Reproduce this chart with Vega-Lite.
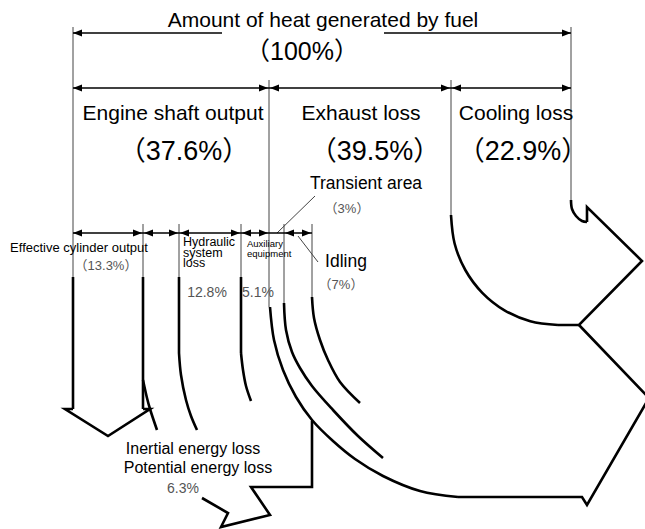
{
  "$schema": "https://vega.github.io/schema/vega-lite/v6.json",
  "width": 645,
  "height": 529,
  "padding": 0,
  "autosize": {"type": "fit", "contains": "padding"},
  "background": "white",
  "config": {"view": {"stroke": null}},
  "datasets": {
    "paths": [
      {"id": "g1", "kind": "guide", "i": 0, "x": 73, "y": 27}, {"id": "g1", "kind": "guide", "i": 1, "x": 73, "y": 277},
      {"id": "g2", "kind": "guide", "i": 0, "x": 571, "y": 27}, {"id": "g2", "kind": "guide", "i": 1, "x": 571, "y": 200},
      {"id": "g3", "kind": "guide", "i": 0, "x": 269, "y": 80}, {"id": "g3", "kind": "guide", "i": 1, "x": 269, "y": 307},
      {"id": "g4", "kind": "guide", "i": 0, "x": 451, "y": 80}, {"id": "g4", "kind": "guide", "i": 1, "x": 451, "y": 215},
      {"id": "g5", "kind": "guide", "i": 0, "x": 143, "y": 224}, {"id": "g5", "kind": "guide", "i": 1, "x": 143, "y": 277},
      {"id": "g6", "kind": "guide", "i": 0, "x": 179, "y": 224}, {"id": "g6", "kind": "guide", "i": 1, "x": 179, "y": 277},
      {"id": "g7", "kind": "guide", "i": 0, "x": 241, "y": 224}, {"id": "g7", "kind": "guide", "i": 1, "x": 241, "y": 277},
      {"id": "g8", "kind": "guide", "i": 0, "x": 284, "y": 224}, {"id": "g8", "kind": "guide", "i": 1, "x": 284, "y": 303},
      {"id": "g9", "kind": "guide", "i": 0, "x": 312, "y": 224}, {"id": "g9", "kind": "guide", "i": 1, "x": 312, "y": 297},
      {"id": "g10", "kind": "guide", "i": 0, "x": 277, "y": 233}, {"id": "g10", "kind": "guide", "i": 1, "x": 315, "y": 196},
      {"id": "g11", "kind": "guide", "i": 0, "x": 298, "y": 236}, {"id": "g11", "kind": "guide", "i": 1, "x": 318, "y": 262},
      {"id": "d1", "kind": "dim", "i": 0, "x": 73, "y": 33}, {"id": "d1", "kind": "dim", "i": 1, "x": 222, "y": 33},
      {"id": "d2", "kind": "dim", "i": 0, "x": 384, "y": 33}, {"id": "d2", "kind": "dim", "i": 1, "x": 571, "y": 33},
      {"id": "d3", "kind": "dim", "i": 0, "x": 73, "y": 88}, {"id": "d3", "kind": "dim", "i": 1, "x": 571, "y": 88},
      {"id": "d4", "kind": "dim", "i": 0, "x": 73, "y": 233}, {"id": "d4", "kind": "dim", "i": 1, "x": 312, "y": 233},
      {"id": "f1", "kind": "flow", "i": 0, "x": 73, "y": 277}, {"id": "f1", "kind": "flow", "i": 1, "x": 73, "y": 409},
      {"id": "f2", "kind": "flow", "i": 0, "x": 143, "y": 277}, {"id": "f2", "kind": "flow", "i": 1, "x": 143, "y": 409},
      {"id": "f3", "kind": "flow", "i": 0, "x": 73, "y": 409}, {"id": "f3", "kind": "flow", "i": 1, "x": 65, "y": 409},
      {"id": "f3", "kind": "flow", "i": 2, "x": 108, "y": 436}, {"id": "f3", "kind": "flow", "i": 3, "x": 150, "y": 409},
      {"id": "f3", "kind": "flow", "i": 4, "x": 143, "y": 409},
      {"id": "f4", "kind": "flow", "i": 0, "x": 179, "y": 277}, {"id": "f4", "kind": "flow", "i": 1, "x": 179, "y": 353},
      {"id": "f5", "kind": "flow", "i": 0, "x": 241, "y": 277}, {"id": "f5", "kind": "flow", "i": 1, "x": 241, "y": 353},
      {"id": "f6", "kind": "flow", "i": 0, "x": 312, "y": 421}, {"id": "f6", "kind": "flow", "i": 1, "x": 312, "y": 487},
      {"id": "f6", "kind": "flow", "i": 2, "x": 251, "y": 487}, {"id": "f6", "kind": "flow", "i": 3, "x": 270, "y": 515},
      {"id": "f6", "kind": "flow", "i": 4, "x": 221, "y": 527}, {"id": "f6", "kind": "flow", "i": 5, "x": 228, "y": 513},
      {"id": "f6", "kind": "flow", "i": 6, "x": 202, "y": 498},
      {"id": "f7", "kind": "flow", "i": 0, "x": 458, "y": 497}, {"id": "f7", "kind": "flow", "i": 1, "x": 582, "y": 497},
      {"id": "f7", "kind": "flow", "i": 2, "x": 587, "y": 505}, {"id": "f7", "kind": "flow", "i": 3, "x": 649, "y": 398},
      {"id": "f7", "kind": "flow", "i": 4, "x": 579, "y": 325},
      {"id": "f8", "kind": "flow", "i": 0, "x": 558, "y": 325}, {"id": "f8", "kind": "flow", "i": 1, "x": 579, "y": 325},
      {"id": "f8", "kind": "flow", "i": 2, "x": 642, "y": 261}, {"id": "f8", "kind": "flow", "i": 3, "x": 587, "y": 207},
      {"id": "f8", "kind": "flow", "i": 4, "x": 587, "y": 222},
      {"id": "c1", "kind": "curve", "i": 0, "x": 270, "y": 307}, {"id": "c1", "kind": "curve", "i": 1, "x": 274, "y": 340},
      {"id": "c1", "kind": "curve", "i": 2, "x": 283, "y": 370}, {"id": "c1", "kind": "curve", "i": 3, "x": 296, "y": 397},
      {"id": "c1", "kind": "curve", "i": 4, "x": 312, "y": 420}, {"id": "c1", "kind": "curve", "i": 5, "x": 333, "y": 441},
      {"id": "c1", "kind": "curve", "i": 6, "x": 355, "y": 459}, {"id": "c1", "kind": "curve", "i": 7, "x": 383, "y": 476},
      {"id": "c1", "kind": "curve", "i": 8, "x": 420, "y": 491}, {"id": "c1", "kind": "curve", "i": 9, "x": 458, "y": 497},
      {"id": "c2", "kind": "curve", "i": 0, "x": 284, "y": 303}, {"id": "c2", "kind": "curve", "i": 1, "x": 286, "y": 330},
      {"id": "c2", "kind": "curve", "i": 2, "x": 292, "y": 352}, {"id": "c2", "kind": "curve", "i": 3, "x": 300, "y": 368},
      {"id": "c2", "kind": "curve", "i": 4, "x": 312, "y": 386}, {"id": "c2", "kind": "curve", "i": 5, "x": 333, "y": 410},
      {"id": "c2", "kind": "curve", "i": 6, "x": 358, "y": 436}, {"id": "c2", "kind": "curve", "i": 7, "x": 383, "y": 458},
      {"id": "c3", "kind": "curve", "i": 0, "x": 312, "y": 297}, {"id": "c3", "kind": "curve", "i": 1, "x": 314, "y": 318},
      {"id": "c3", "kind": "curve", "i": 2, "x": 320, "y": 340}, {"id": "c3", "kind": "curve", "i": 3, "x": 328, "y": 360},
      {"id": "c3", "kind": "curve", "i": 4, "x": 340, "y": 382}, {"id": "c3", "kind": "curve", "i": 5, "x": 360, "y": 403},
      {"id": "c4", "kind": "curve", "i": 0, "x": 241, "y": 353}, {"id": "c4", "kind": "curve", "i": 1, "x": 243, "y": 370},
      {"id": "c4", "kind": "curve", "i": 2, "x": 246, "y": 386}, {"id": "c4", "kind": "curve", "i": 3, "x": 251, "y": 401},
      {"id": "c5", "kind": "curve", "i": 0, "x": 179, "y": 353}, {"id": "c5", "kind": "curve", "i": 1, "x": 181, "y": 375},
      {"id": "c5", "kind": "curve", "i": 2, "x": 186, "y": 400}, {"id": "c5", "kind": "curve", "i": 3, "x": 191, "y": 416},
      {"id": "c5", "kind": "curve", "i": 4, "x": 197, "y": 430},
      {"id": "c6", "kind": "curve", "i": 0, "x": 143, "y": 380}, {"id": "c6", "kind": "curve", "i": 1, "x": 147, "y": 398},
      {"id": "c6", "kind": "curve", "i": 2, "x": 150, "y": 409}, {"id": "c6", "kind": "curve", "i": 3, "x": 157, "y": 430},
      {"id": "c7", "kind": "curve", "i": 0, "x": 451, "y": 215}, {"id": "c7", "kind": "curve", "i": 1, "x": 454.6, "y": 243.5},
      {"id": "c7", "kind": "curve", "i": 2, "x": 465.3, "y": 270}, {"id": "c7", "kind": "curve", "i": 3, "x": 482.3, "y": 292.8},
      {"id": "c7", "kind": "curve", "i": 4, "x": 504.5, "y": 310.3}, {"id": "c7", "kind": "curve", "i": 5, "x": 530.3, "y": 321.2},
      {"id": "c7", "kind": "curve", "i": 6, "x": 558, "y": 325},
      {"id": "c8", "kind": "curve", "i": 0, "x": 587, "y": 222}, {"id": "c8", "kind": "curve", "i": 1, "x": 582, "y": 221},
      {"id": "c8", "kind": "curve", "i": 2, "x": 576, "y": 216}, {"id": "c8", "kind": "curve", "i": 3, "x": 572, "y": 209},
      {"id": "c8", "kind": "curve", "i": 4, "x": 571, "y": 200}
    ],
    "heads": [
      {"x": 73, "y": 33, "dir": "L"}, {"x": 571, "y": 33, "dir": "R"},
      {"x": 73, "y": 88, "dir": "L"}, {"x": 268, "y": 88, "dir": "R"}, {"x": 270, "y": 88, "dir": "L"},
      {"x": 450, "y": 88, "dir": "R"}, {"x": 452, "y": 88, "dir": "L"}, {"x": 571, "y": 88, "dir": "R"},
      {"x": 73, "y": 233, "dir": "L"}, {"x": 142, "y": 233, "dir": "R"}, {"x": 144, "y": 233, "dir": "L"},
      {"x": 178, "y": 233, "dir": "R"}, {"x": 180, "y": 233, "dir": "L"}, {"x": 240, "y": 233, "dir": "R"},
      {"x": 242, "y": 233, "dir": "L"}, {"x": 268, "y": 233, "dir": "R"},
      {"x": 285, "y": 233, "dir": "L"}, {"x": 311, "y": 233, "dir": "R"}
    ],
    "labels": [
      {"grp": "head", "text": "Amount of heat generated by fuel", "x": 323, "y": 27},
      {"grp": "head", "text": "Engine shaft output", "x": 173, "y": 120},
      {"grp": "head", "text": "Exhaust loss", "x": 361, "y": 120},
      {"grp": "head", "text": "Cooling loss", "x": 516, "y": 120},
      {"grp": "toppct", "text": "（100%）", "x": 302, "y": 60},
      {"grp": "headpct", "text": "（37.6%）", "x": 184, "y": 160},
      {"grp": "headpct", "text": "（39.5%）", "x": 375, "y": 160},
      {"grp": "headpct", "text": "（22.9%）", "x": 523, "y": 160},
      {"grp": "callout", "text": "Transient area", "x": 366, "y": 189},
      {"grp": "callout", "text": "Idling", "x": 346, "y": 267},
      {"grp": "bottom", "text": "Inertial energy loss", "x": 193, "y": 454},
      {"grp": "bottom", "text": "Potential energy loss", "x": 198, "y": 473},
      {"grp": "sub", "text": "Effective cylinder output", "x": 79, "y": 252},
      {"grp": "subleft", "text": "Hydraulic", "x": 183, "y": 246},
      {"grp": "subleft", "text": "system", "x": 183, "y": 256.5},
      {"grp": "subleft", "text": "loss", "x": 183, "y": 267},
      {"grp": "tiny", "text": "Auxiliary", "x": 247, "y": 247},
      {"grp": "tiny", "text": "equipment", "x": 247, "y": 257},
      {"grp": "pct", "text": "（13.3%）", "x": 106, "y": 270},
      {"grp": "pct", "text": "（3%）", "x": 347, "y": 213},
      {"grp": "pct", "text": "（7%）", "x": 341, "y": 289},
      {"grp": "pctbig", "text": "12.8%", "x": 207, "y": 297},
      {"grp": "pctbig", "text": "5.1%", "x": 258, "y": 297},
      {"grp": "pctbig", "text": "6.3%", "x": 183, "y": 493}
    ]
  },
  "encoding": {
    "x": {"field": "x", "type": "quantitative", "scale": {"domain": [0, 645], "nice": false, "zero": false}, "axis": null},
    "y": {"field": "y", "type": "quantitative", "scale": {"domain": [0, 529], "nice": false, "zero": false, "reverse": true}, "axis": null}
  },
  "layer": [
    {
      "data": {"name": "paths"},
      "transform": [{"filter": "datum.kind == 'guide'"}],
      "mark": {"type": "line", "stroke": "#444", "strokeWidth": 1, "clip": true},
      "encoding": {"detail": {"field": "id"}, "order": {"field": "i", "type": "quantitative"}}
    },
    {
      "data": {"name": "paths"},
      "transform": [{"filter": "datum.kind == 'dim'"}],
      "mark": {"type": "line", "stroke": "#000", "strokeWidth": 1.4, "clip": true},
      "encoding": {"detail": {"field": "id"}, "order": {"field": "i", "type": "quantitative"}}
    },
    {
      "data": {"name": "paths"},
      "transform": [{"filter": "datum.kind == 'flow'"}],
      "mark": {"type": "line", "stroke": "#000", "strokeWidth": 2.6, "strokeJoin": "miter", "clip": true},
      "encoding": {"detail": {"field": "id"}, "order": {"field": "i", "type": "quantitative"}}
    },
    {
      "data": {"name": "paths"},
      "transform": [{"filter": "datum.kind == 'curve'"}],
      "mark": {"type": "line", "stroke": "#000", "strokeWidth": 2.6, "interpolate": "catmull-rom", "clip": true},
      "encoding": {"detail": {"field": "id"}, "order": {"field": "i", "type": "quantitative"}}
    },
    {
      "data": {"name": "heads"},
      "mark": {"type": "point", "filled": true, "fill": "#000", "opacity": 1, "strokeWidth": 0, "size": 324},
      "encoding": {
        "shape": {"field": "dir", "type": "nominal", "scale": {"domain": ["L", "R"], "range": ["M0,0L1,-0.4L1,0.4Z", "M0,0L-1,-0.4L-1,0.4Z"]}, "legend": null}
      }
    },
    {
      "data": {"name": "labels"},
      "transform": [{"filter": "datum.grp == 'head'"}],
      "mark": {"type": "text", "font": "Liberation Sans, Noto Sans CJK JP", "fontSize": 21, "fill": "#000", "align": "center", "baseline": "alphabetic"},
      "encoding": {"text": {"field": "text"}}
    },
    {
      "data": {"name": "labels"},
      "transform": [{"filter": "datum.grp == 'toppct'"}],
      "mark": {"type": "text", "font": "Liberation Sans, Noto Sans CJK JP", "fontSize": 25, "fill": "#000", "align": "center", "baseline": "alphabetic"},
      "encoding": {"text": {"field": "text"}}
    },
    {
      "data": {"name": "labels"},
      "transform": [{"filter": "datum.grp == 'headpct'"}],
      "mark": {"type": "text", "font": "Liberation Sans, Noto Sans CJK JP", "fontSize": 27, "fill": "#000", "align": "center", "baseline": "alphabetic"},
      "encoding": {"text": {"field": "text"}}
    },
    {
      "data": {"name": "labels"},
      "transform": [{"filter": "datum.grp == 'callout'"}],
      "mark": {"type": "text", "font": "Liberation Sans", "fontSize": 17.5, "fill": "#000", "align": "center", "baseline": "alphabetic"},
      "encoding": {"text": {"field": "text"}}
    },
    {
      "data": {"name": "labels"},
      "transform": [{"filter": "datum.grp == 'bottom'"}],
      "mark": {"type": "text", "font": "Liberation Sans", "fontSize": 16, "fill": "#000", "align": "center", "baseline": "alphabetic"},
      "encoding": {"text": {"field": "text"}}
    },
    {
      "data": {"name": "labels"},
      "transform": [{"filter": "datum.grp == 'sub'"}],
      "mark": {"type": "text", "font": "Liberation Sans", "fontSize": 13, "fill": "#000", "align": "center", "baseline": "alphabetic"},
      "encoding": {"text": {"field": "text"}}
    },
    {
      "data": {"name": "labels"},
      "transform": [{"filter": "datum.grp == 'subleft'"}],
      "mark": {"type": "text", "font": "Liberation Sans", "fontSize": 12.5, "fill": "#000", "align": "left", "baseline": "alphabetic"},
      "encoding": {"text": {"field": "text"}}
    },
    {
      "data": {"name": "labels"},
      "transform": [{"filter": "datum.grp == 'tiny'"}],
      "mark": {"type": "text", "font": "Liberation Sans", "fontSize": 9.5, "fill": "#000", "align": "left", "baseline": "alphabetic"},
      "encoding": {"text": {"field": "text"}}
    },
    {
      "data": {"name": "labels"},
      "transform": [{"filter": "datum.grp == 'pct'"}],
      "mark": {"type": "text", "font": "Liberation Sans, Noto Sans CJK JP", "fontSize": 13, "fill": "#555", "align": "center", "baseline": "alphabetic"},
      "encoding": {"text": {"field": "text"}}
    },
    {
      "data": {"name": "labels"},
      "transform": [{"filter": "datum.grp == 'pctbig'"}],
      "mark": {"type": "text", "font": "Liberation Sans", "fontSize": 14, "fill": "#555", "align": "center", "baseline": "alphabetic"},
      "encoding": {"text": {"field": "text"}}
    }
  ]
}
